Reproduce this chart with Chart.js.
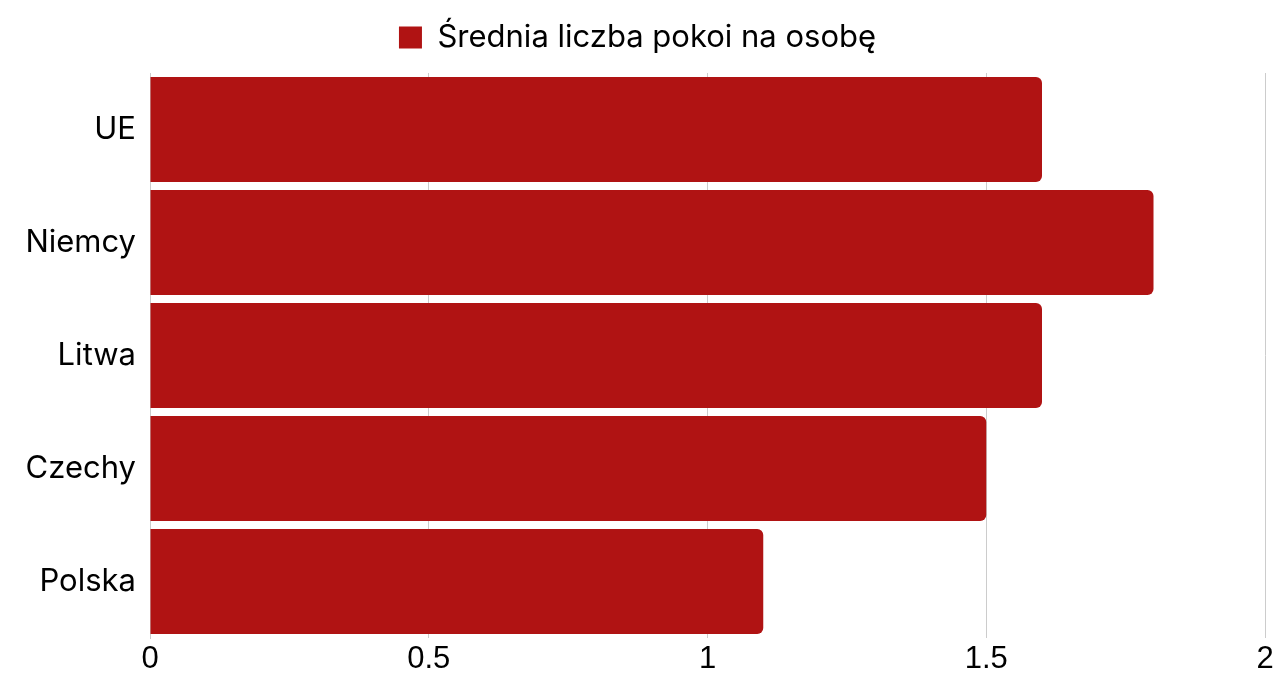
<!DOCTYPE html>
<html>
<head>
<meta charset="utf-8">
<script src="https://cdn.jsdelivr.net/npm/chart.js@4"></script>
<style>
  html, body { margin: 0; padding: 0; background: #fff; }
  canvas { display: block; }
</style>
</head>
<body>
<canvas id="roomsChart" width="1275" height="675"></canvas>
<script>
// Dane wykresu
const countries = ['UE', 'Niemcy', 'Litwa', 'Czechy', 'Polska'];
const roomsPerPerson = [1.6, 1.8, 1.6, 1.5, 1.1];
const seriesLabel = 'Średnia liczba pokoi na osobę';

const barColor = '#B01313';

Chart.defaults.font.family = 'Inter, "Open Sans", sans-serif';
Chart.defaults.color = '#000';

// trochę więcej miejsca pod legendą
const legendGap = {
    id: 'legendGap',
    beforeInit(chart) {
        const fit = chart.legend.fit;
        chart.legend.fit = function () {
            fit.call(this);
            this.height += 10;
        };
    }
};

new Chart(document.getElementById('roomsChart'), {
    type: 'bar',
    data: {
        labels: countries,
        datasets: [{
            label: seriesLabel,
            data: roomsPerPerson,
            backgroundColor: barColor,
            borderRadius: 6,
            borderSkipped: 'start',
            categoryPercentage: 0.93,
            barPercentage: 1
        }]
    },
    options: {
        indexAxis: 'y',
        responsive: false,
        animation: false,
        layout: { padding: { top: 0, right: 0, bottom: 0, left: 0 } },
        plugins: {
            legend: {
                labels: {
                    font: { size: 31 },
                    boxWidth: 23,
                    boxHeight: 22,
                    padding: 22
                }
            },
            tooltip: { enabled: false }
        },
        scales: {
            x: {
                min: 0,
                max: 2,
                ticks: {
                    stepSize: 0.5,
                    font: { size: 31, family: '"Liberation Sans", Arial, sans-serif', lineHeight: 1 },
                    padding: 6,
                    maxRotation: 0,
                    callback: v => String(v)
                },
                grid: { color: '#cccccc', drawTicks: false },
                border: { display: false },
                afterFit: s => { s.height = 37; s.paddingRight = 10; }
            },
            y: {
                ticks: { font: { size: 31 }, padding: 14 },
                grid: { display: false, drawTicks: false },
                border: { color: '#cccccc' },
                afterFit: s => { s.width = 150; }
            }
        }
    },
    plugins: [legendGap]
});
</script>
</body>
</html>
